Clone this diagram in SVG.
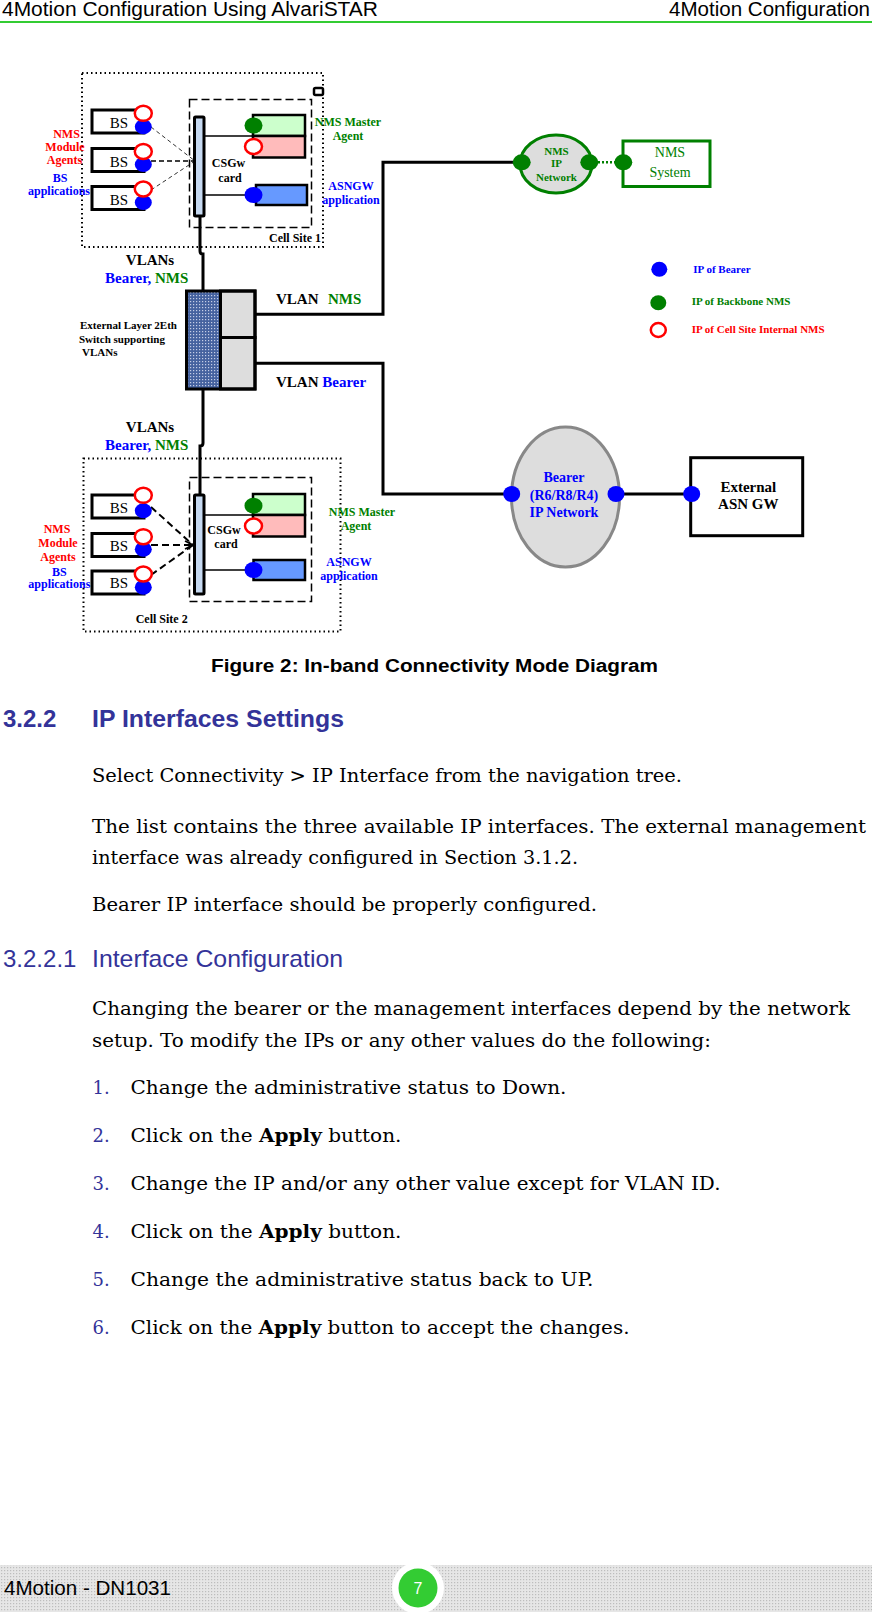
<svg xmlns="http://www.w3.org/2000/svg" width="872" height="1614" viewBox="0 0 872 1614">
<defs>
<style>
.hd{font-family:"Liberation Sans",Arial,sans-serif;font-size:20px;fill:#000}
.cap{font-family:"Liberation Sans",Arial,sans-serif;font-size:18px;font-weight:bold;fill:#000}
.h2{font-family:"Liberation Sans",Arial,sans-serif;font-size:24px;font-weight:bold;fill:#333399}
.h3{font-family:"Liberation Sans",Arial,sans-serif;font-size:24px;fill:#333399}
.bd{font-family:"DejaVu Serif","Liberation Serif",serif;font-size:18px;fill:#000}
.num{font-family:"DejaVu Serif","Liberation Serif",serif;font-size:18px;fill:#333399}
.b{font-weight:bold}
.d{font-family:"Liberation Serif","Times New Roman",serif;font-weight:bold}
.s11{font-size:11px}
.s12{font-size:12px}
.s14{font-size:14px}
.s15{font-size:15px}
.mid{text-anchor:middle}
.red{fill:#ff0000}
.blu{fill:#0000ff}
.grn{fill:#008000}
.blk{fill:#000}
.box{fill:#fff;stroke:#000;stroke-width:3}
.dot{fill:none;stroke:#000;stroke-width:2;stroke-dasharray:1.5 3}
.dash{fill:none;stroke:#000;stroke-width:1.5;stroke-dasharray:8 4}
.bar{fill:#c6d9f1;stroke:#000;stroke-width:3}
.gbox{fill:#ccffcc;stroke:#000;stroke-width:2.5}
.rbox{fill:#ffbbbb;stroke:#000;stroke-width:2.5}
.bbox{fill:#6699ff;stroke:#000;stroke-width:2.5}
.bd1{fill:#0000ff}
.gd1{fill:#008000}
.rc{fill:#fff;stroke:#ff0000;stroke-width:2.5}
.ln{fill:none;stroke:#000;stroke-width:3}
.thin{fill:none;stroke:#000;stroke-width:1.5}
</style>
<pattern id="sw" width="3" height="3" patternUnits="userSpaceOnUse"><rect width="3" height="3" fill="#45629f"/><rect x="1" y="1" width="1.2" height="1.2" fill="#c4cde6"/></pattern>
<pattern id="ft" width="3" height="3" patternUnits="userSpaceOnUse"><rect width="3" height="3" fill="#e6e6e6"/><rect x="1" y="1" width="1.2" height="1.2" fill="#bdbdbd"/></pattern>
<marker id="oa" viewBox="0 0 10 10" refX="9" refY="5" markerWidth="10" markerHeight="10" markerUnits="userSpaceOnUse" orient="auto"><path d="M1,1 L9,5 L1,9" fill="none" stroke="#000" stroke-width="1.6"/></marker>
</defs>
<rect width="872" height="1614" fill="#fff"/>

<g id="header">
<text class="hd" x="2" y="16" textLength="376" lengthAdjust="spacingAndGlyphs">4Motion Configuration Using AlvariSTAR</text>
<text class="hd" x="669" y="16" textLength="201" lengthAdjust="spacingAndGlyphs">4Motion Configuration</text>
<line x1="0" y1="22" x2="872" y2="22" stroke="#33cc33" stroke-width="2"/>
</g>

<g id="connectors">
<path class="ln" d="M200,216 V251 Q200,254 203,254 V291"/>
<path class="ln" d="M203,389 V443 Q203,446 200,446 V495"/>
<polyline class="ln" points="255,314.3 383,314.3 383,162.3 521,162.3"/>
<polyline class="ln" points="255,363.3 383,363.3 383,494 511,494"/>
<line x1="598" y1="162.3" x2="616" y2="162.3" stroke="#008000" stroke-width="2.5" stroke-dasharray="2 2"/>
<line class="ln" x1="616" y1="494" x2="691" y2="494"/>
<line x1="151" y1="127" x2="195" y2="161" stroke="#333" stroke-width="1" stroke-dasharray="4 3"/>
<line x1="151" y1="161" x2="195" y2="161" stroke="#000" stroke-width="1.5" stroke-dasharray="5 3"/>
<line x1="151" y1="190" x2="195" y2="161" stroke="#333" stroke-width="1" stroke-dasharray="4 3"/>
<line x1="151" y1="507" x2="193" y2="545" stroke="#000" stroke-width="2" stroke-dasharray="7 4"/>
<line x1="151" y1="545" x2="193" y2="545" stroke="#000" stroke-width="2" stroke-dasharray="7 4" marker-end="url(#oa)"/>
<line x1="151" y1="575" x2="193" y2="545" stroke="#000" stroke-width="2" stroke-dasharray="7 4"/>
</g>

<g id="cell-site-1">
<rect class="dot" x="82" y="73" width="241" height="174"/>
<rect x="314" y="88" width="9" height="7" rx="1.5" fill="#fff" stroke="#000" stroke-width="2.5"/>
<rect class="dash" x="189.5" y="99.5" width="122" height="128"/>
<rect class="box" x="92" y="110" width="52" height="23"/>
<rect class="box" x="92" y="148.5" width="52" height="23"/>
<rect class="box" x="92" y="186.5" width="52" height="23"/>
<text class="mid" x="119" y="128" font-family="Liberation Serif,serif" font-size="15">BS</text>
<text class="mid" x="119" y="166.5" font-family="Liberation Serif,serif" font-size="15">BS</text>
<text class="mid" x="119" y="204.5" font-family="Liberation Serif,serif" font-size="15">BS</text>
<ellipse class="bd1" cx="143.3" cy="126.8" rx="8.5" ry="7.5"/>
<ellipse class="rc" cx="143.3" cy="113.3" rx="8.5" ry="7.5"/>
<ellipse class="bd1" cx="143.3" cy="164.5" rx="8.5" ry="7.5"/>
<ellipse class="rc" cx="143.3" cy="151.5" rx="8.5" ry="7.5"/>
<ellipse class="bd1" cx="143.3" cy="202.5" rx="8.5" ry="7.5"/>
<ellipse class="rc" cx="143.3" cy="189" rx="8.5" ry="7.5"/>
<rect class="bar" x="194.5" y="117" width="9.5" height="99" rx="1"/>
<line class="thin" x1="204" y1="136" x2="253" y2="136"/>
<line class="thin" x1="204" y1="195" x2="253" y2="195"/>
<rect class="gbox" x="253" y="115" width="52" height="21"/>
<rect class="rbox" x="253" y="136" width="52" height="21.5"/>
<rect class="bbox" x="256" y="185" width="51" height="20"/>
<ellipse class="gd1" cx="253.5" cy="125.5" rx="9" ry="8"/>
<ellipse class="rc" cx="253.5" cy="146.5" rx="8.5" ry="7.5"/>
<ellipse class="bd1" cx="253.5" cy="195" rx="9" ry="8"/>
<text class="d s12 red mid" x="66.5" y="137.7">NMS</text>
<text class="d s12 red mid" x="65" y="150.5">Module</text>
<text class="d s12 red mid" x="64.5" y="164">Agents</text>
<text class="d s12 blu mid" x="60" y="181.7">BS</text>
<text class="d s12 blu mid" x="59" y="195">applications</text>
<text class="d s12 blk mid" x="228.5" y="166.7">CSGw</text>
<text class="d s12 blk mid" x="230" y="181.7">card</text>
<text class="d s12 grn mid" x="348" y="126">NMS Master</text>
<text class="d s12 grn mid" x="348" y="140">Agent</text>
<text class="d s12 blu mid" x="351" y="190">ASNGW</text>
<text class="d s12 blu mid" x="351" y="204.3">application</text>
<text class="d s12 blk" x="269" y="241.7">Cell Site 1</text>
</g>

<g id="cell-site-2">
<rect class="dot" x="83.5" y="458.5" width="257" height="173"/>
<rect class="dash" x="189.5" y="477.5" width="122" height="124"/>
<rect class="box" x="92" y="495" width="52" height="23"/>
<rect class="box" x="92" y="533.5" width="52" height="23"/>
<rect class="box" x="92" y="571" width="52" height="23"/>
<text class="mid" x="119" y="513.3" font-family="Liberation Serif,serif" font-size="15">BS</text>
<text class="mid" x="119" y="550.5" font-family="Liberation Serif,serif" font-size="15">BS</text>
<text class="mid" x="119" y="588.3" font-family="Liberation Serif,serif" font-size="15">BS</text>
<ellipse class="bd1" cx="143.3" cy="510.7" rx="8.5" ry="7.5"/>
<ellipse class="rc" cx="143.3" cy="495.3" rx="8.5" ry="7.5"/>
<ellipse class="bd1" cx="143.3" cy="549.3" rx="8.5" ry="7.5"/>
<ellipse class="rc" cx="143.3" cy="536.7" rx="8.5" ry="7.5"/>
<ellipse class="bd1" cx="143.3" cy="587.3" rx="8.5" ry="7.5"/>
<ellipse class="rc" cx="143.3" cy="574" rx="8.5" ry="7.5"/>
<rect class="bar" x="194.5" y="495" width="9.5" height="99" rx="1"/>
<line class="thin" x1="204" y1="515" x2="253" y2="515"/>
<line class="thin" x1="204" y1="570" x2="253" y2="570"/>
<rect class="gbox" x="253" y="494" width="52" height="21"/>
<rect class="rbox" x="253" y="515" width="52" height="21.5"/>
<rect class="bbox" x="253.5" y="560" width="51.5" height="20"/>
<ellipse class="gd1" cx="253.5" cy="505.7" rx="9" ry="8"/>
<ellipse class="rc" cx="253.5" cy="526" rx="8.5" ry="7.5"/>
<ellipse class="bd1" cx="253.5" cy="570" rx="9" ry="8"/>
<text class="d s12 red mid" x="57" y="533.3">NMS</text>
<text class="d s12 red mid" x="58" y="546.7">Module</text>
<text class="d s12 red mid" x="58" y="560.7">Agents</text>
<text class="d s12 blu mid" x="59.3" y="576">BS</text>
<text class="d s12 blu mid" x="59.3" y="588.3">applications</text>
<text class="d s12 blk mid" x="224" y="534">CSGw</text>
<text class="d s12 blk mid" x="226" y="548.3">card</text>
<text class="d s12 grn mid" x="362" y="516">NMS Master</text>
<text class="d s12 grn mid" x="356" y="530">Agent</text>
<text class="d s12 blu mid" x="349" y="566">ASNGW</text>
<text class="d s12 blu mid" x="349" y="580">application</text>
<text class="d s12 blk mid" x="161.7" y="622.7">Cell Site 2</text>
</g>

<g id="switch">
<rect x="186.5" y="291" width="34" height="98" fill="url(#sw)"/>
<rect x="220.5" y="291" width="34.5" height="46.5" fill="#dddddd" stroke="#000" stroke-width="3"/>
<rect x="220.5" y="337.5" width="34.5" height="51.5" fill="#dddddd" stroke="#000" stroke-width="3"/>
<rect x="186.5" y="291" width="68.5" height="98" fill="none" stroke="#000" stroke-width="3"/>
<text class="d s11 blk" x="80" y="329.3">External Layer 2Eth</text>
<text class="d s11 blk" x="79" y="343.3">Switch supporting</text>
<text class="d s11 blk" x="82" y="356">VLANs</text>
<text class="d s15 blk mid" x="150" y="265">VLANs</text>
<text class="d s15" x="105" y="283"><tspan class="blu">Bearer,</tspan><tspan class="grn"> NMS</tspan></text>
<text class="d s15 blk mid" x="150" y="432">VLANs</text>
<text class="d s15" x="105" y="449.5"><tspan class="blu">Bearer,</tspan><tspan class="grn"> NMS</tspan></text>
<text class="d s15 blk" x="276" y="303.5">VLAN</text>
<text class="d s15 grn" x="328" y="303.5">NMS</text>
<text class="d s15 blk" x="276" y="387">VLAN <tspan class="blu">Bearer</tspan></text>
</g>

<g id="nms-ip-network">
<ellipse cx="556" cy="164" rx="36" ry="29" fill="#dddddd" stroke="#008000" stroke-width="3"/>
<ellipse class="gd1" cx="521.7" cy="162.3" rx="9" ry="8"/>
<ellipse class="gd1" cx="589.3" cy="162.3" rx="9" ry="8"/>
<text class="d s11 grn mid" x="556.5" y="155">NMS</text>
<text class="d s11 grn mid" x="556.5" y="166.7">IP</text>
<text class="d s11 grn mid" x="556.5" y="180.7">Network</text>
</g>

<g id="nms-system">
<rect x="623" y="141" width="87" height="45.5" fill="#fff" stroke="#008000" stroke-width="3"/>
<ellipse class="gd1" cx="623.3" cy="162.3" rx="9" ry="8"/>
<text class="grn mid" x="670" y="156.7" font-family="Liberation Serif,serif" font-size="14">NMS</text>
<text class="grn mid" x="670" y="176.7" font-family="Liberation Serif,serif" font-size="14">System</text>
</g>

<g id="legend">
<ellipse class="bd1" cx="659.3" cy="269.3" rx="8" ry="7.5"/>
<text class="d s11 blu" x="693.3" y="272.7">IP of Bearer</text>
<ellipse class="gd1" cx="658.3" cy="302.7" rx="8" ry="7.5"/>
<text class="d s11 grn" x="691.7" y="305">IP of Backbone NMS</text>
<ellipse class="rc" cx="658.3" cy="330" rx="7.5" ry="7"/>
<text class="d s11 red" x="691.7" y="332.7">IP of Cell Site Internal NMS</text>
</g>

<g id="bearer-network">
<ellipse cx="565.5" cy="497" rx="54" ry="70" fill="#dddddd" stroke="#888888" stroke-width="3"/>
<ellipse class="bd1" cx="511.7" cy="494" rx="8.5" ry="8"/>
<ellipse class="bd1" cx="616" cy="494" rx="8.5" ry="8"/>
<text class="d s14 blu mid" x="564" y="481.7">Bearer</text>
<text class="d s14 blu mid" x="564" y="500">(R6/R8/R4)</text>
<text class="d s14 blu mid" x="564" y="516.7">IP Network</text>
</g>

<g id="external-asn-gw">
<rect x="690.7" y="457.7" width="112" height="78" fill="#fff" stroke="#000" stroke-width="3"/>
<ellipse class="bd1" cx="691.7" cy="494" rx="8.5" ry="8"/>
<text class="d s15 blk mid" x="748.3" y="491.7">External</text>
<text class="d s15 blk mid" x="748.3" y="509.3">ASN GW</text>
</g>

<g id="body">
<text class="cap" x="211" y="671.7" textLength="447" lengthAdjust="spacingAndGlyphs">Figure 2: In-band Connectivity Mode Diagram</text>
<text class="h2" x="3" y="727.3">3.2.2</text>
<text class="h2" x="92" y="727.3" textLength="252" lengthAdjust="spacingAndGlyphs">IP Interfaces Settings</text>
<text class="bd" x="92" y="782" textLength="590" lengthAdjust="spacingAndGlyphs">Select Connectivity &gt; IP Interface from the navigation tree.</text>
<text class="bd" x="92" y="833" textLength="774" lengthAdjust="spacingAndGlyphs">The list contains the three available IP interfaces. The external management</text>
<text class="bd" x="92" y="864" textLength="486" lengthAdjust="spacingAndGlyphs">interface was already configured in Section 3.1.2.</text>
<text class="bd" x="92" y="911" textLength="505" lengthAdjust="spacingAndGlyphs">Bearer IP interface should be properly configured.</text>
<text class="h3" x="3" y="966.5">3.2.2.1</text>
<text class="h3" x="92" y="966.5" textLength="251" lengthAdjust="spacingAndGlyphs">Interface Configuration</text>
<text class="bd" x="92" y="1014.5" textLength="758" lengthAdjust="spacingAndGlyphs">Changing the bearer or the management interfaces depend by the network</text>
<text class="bd" x="92" y="1046.5" textLength="619" lengthAdjust="spacingAndGlyphs">setup. To modify the IPs or any other values do the following:</text>
<text class="num" x="92.5" y="1094">1.</text>
<text class="bd" x="130.5" y="1094" textLength="436" lengthAdjust="spacingAndGlyphs">Change the administrative status to Down.</text>
<text class="num" x="92.5" y="1142">2.</text>
<text class="bd" x="130.5" y="1142" textLength="271" lengthAdjust="spacingAndGlyphs">Click on the <tspan class="b">Apply</tspan> button.</text>
<text class="num" x="92.5" y="1190">3.</text>
<text class="bd" x="130.5" y="1190" textLength="590" lengthAdjust="spacingAndGlyphs">Change the IP and/or any other value except for VLAN ID.</text>
<text class="num" x="92.5" y="1237.5">4.</text>
<text class="bd" x="130.5" y="1237.5" textLength="271" lengthAdjust="spacingAndGlyphs">Click on the <tspan class="b">Apply</tspan> button.</text>
<text class="num" x="92.5" y="1286">5.</text>
<text class="bd" x="130.5" y="1286" textLength="463" lengthAdjust="spacingAndGlyphs">Change the administrative status back to UP.</text>
<text class="num" x="92.5" y="1334">6.</text>
<text class="bd" x="130.5" y="1334" textLength="499" lengthAdjust="spacingAndGlyphs">Click on the <tspan class="b">Apply</tspan> button to accept the changes.</text>
</g>

<g id="footer">
<rect x="0" y="1565" width="872" height="47" fill="url(#ft)"/>
<circle cx="418" cy="1588" r="26" fill="#fff"/>
<circle cx="418" cy="1588" r="19.5" fill="#33cc33"/>
<text x="418" y="1594" text-anchor="middle" font-family="Liberation Sans,Arial,sans-serif" font-size="16" fill="#fff">7</text>
<text class="hd" x="4" y="1595" textLength="167" lengthAdjust="spacingAndGlyphs">4Motion - DN1031</text>
</g>
</svg>
